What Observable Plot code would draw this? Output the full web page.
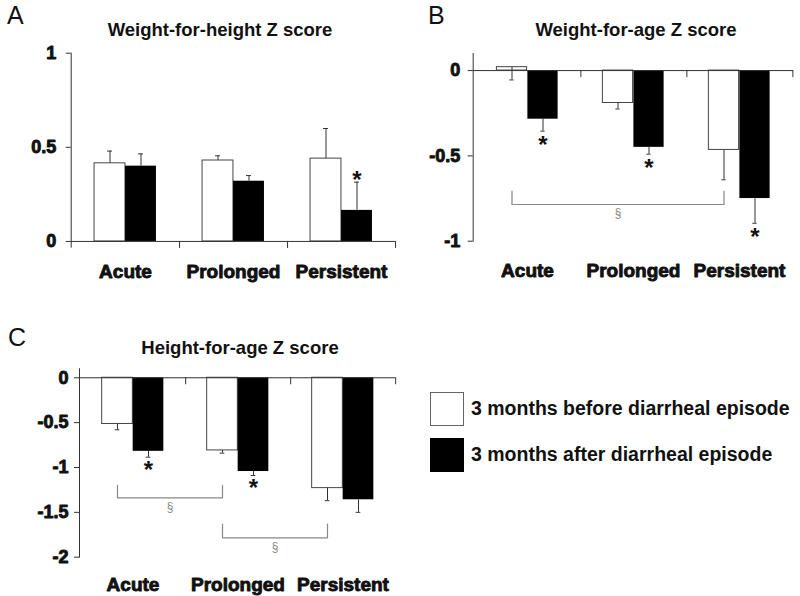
<!DOCTYPE html>
<html><head><meta charset="utf-8">
<script src="https://cdn.jsdelivr.net/npm/d3@7"></script>
<script src="https://cdn.jsdelivr.net/npm/@observablehq/plot@0.6"></script>
<style>
body{margin:0;background:#fff;width:800px;height:596px;position:relative;overflow:hidden;font-family:"Liberation Sans",Arial,sans-serif;color:#111;}
.panel{position:absolute;}
.letter{position:absolute;font-size:25px;line-height:1;}
.title{position:absolute;font-weight:bold;font-size:18.5px;line-height:1;white-space:nowrap;transform:translateX(-50%);}
.legend{position:absolute;left:430px;top:391px;}
.legend .row{display:flex;align-items:center;height:35px;margin-bottom:11px;}
.legend .sw{width:34px;height:34px;box-sizing:border-box;margin-right:7px;}
.legend .lab{font-size:19.5px;font-weight:bold;white-space:nowrap;}
</style></head><body>
<div class="letter" style="left:7px;top:3px">A</div>
<div class="letter" style="left:428px;top:3px">B</div>
<div class="letter" style="left:8px;top:325px">C</div>
<div class="title" style="left:220px;top:21px">Weight-for-height Z score</div>
<div class="title" style="left:636px;top:21px">Weight-for-age Z score</div>
<div class="title" style="left:240px;top:339px">Height-for-age Z score</div>
<div id="A" class="panel" style="left:0;top:0"></div>
<div id="B" class="panel" style="left:400px;top:0"></div>
<div id="C" class="panel" style="left:0;top:290px"></div>
<div class="legend">
  <div class="row"><div class="sw" style="background:#fff;border:1.5px solid #666"></div><div class="lab" id="l0"></div></div>
  <div class="row"><div class="sw" style="background:#000"></div><div class="lab" id="l1"></div></div>
</div>
<script>
// ---- data ----
const categories = ["Acute", "Prolonged", "Persistent"];
const seriesNames = ["3 months before diarrheal episode", "3 months after diarrheal episode"];

// A: Weight-for-height Z score
const whzBefore = [0.415, 0.43, 0.44];
const whzBeforeErr = [0.48, 0.455, 0.60];
const whzAfter = [0.40, 0.32, 0.165];
const whzAfterErr = [0.465, 0.35, 0.315];
const whzStar = [false, false, true];
const whzTicks = [0, 0.5, 1];

// B: Weight-for-age Z score
const wazBefore = [0.02, -0.19, -0.465];
const wazBeforeErr = [-0.055, -0.225, -0.64];
const wazAfter = [-0.285, -0.45, -0.75];
const wazAfterErr = [-0.355, -0.49, -0.895];
const wazStar = [true, true, true];
const wazTicks = [0, -0.5, -1];
const wazBrackets = [{from: "Acute", to: "Persistent", y: -0.785, top: -0.707}];

// C: Height-for-age Z score
const hazBefore = [-0.515, -0.81, -1.23];
const hazBeforeErr = [-0.58, -0.84, -1.37];
const hazAfter = [-0.82, -1.045, -1.36];
const hazAfterErr = [-0.885, -1.09, -1.5];
const hazStar = [true, true, false];
const hazTicks = [0, -0.5, -1, -1.5, -2];
const hazBrackets = [
  {from: "Acute", to: "Prolonged", y: -1.338, top: -1.2},
  {from: "Prolonged", to: "Persistent", y: -1.784, top: -1.63}
];

document.getElementById("l0").textContent = seriesNames[0];
document.getElementById("l1").textContent = seriesNames[1];

const FONT = "Liberation Sans, Arial, sans-serif";
const AX = "#333";
const BAR = 31;

function rows(vals, errs, stars) {
  return categories.map((c, i) => ({cat: c, value: vals[i], err: errs[i], star: stars ? stars[i] : false}));
}

function panel(o) {
  const bw = (o.width - o.marginLeft - o.marginRight) / 3;
  const half = BAR / 2;
  const before = rows(o.before, o.beforeErr);
  const after = rows(o.after, o.afterErr, o.stars);
  const brk = [];
  (o.brackets || []).forEach((b, k) => {
    brk.push({id: k, cat: b.from, y: b.top}, {id: k, cat: b.from, y: b.y}, {id: k, cat: b.to, y: b.y}, {id: k, cat: b.to, y: b.top});
  });
  const marks = [
    Plot.barY(before, {x: "cat", y: "value", fill: "white", stroke: "#444", strokeWidth: 1, insetLeft: bw / 2 - BAR, insetRight: bw / 2}),
    Plot.barY(after, {x: "cat", y: "value", fill: "black", insetLeft: bw / 2, insetRight: bw / 2 - BAR}),
    Plot.ruleX(before, {x: "cat", y1: "value", y2: "err", dx: -half, stroke: AX, strokeWidth: 1}),
    Plot.ruleX(after, {x: "cat", y1: "value", y2: "err", dx: half, stroke: AX, strokeWidth: 1}),
    Plot.tickY(before, {x: "cat", y: "err", dx: -half, insetLeft: bw / 2 - 2.5, insetRight: bw / 2 - 2.5, stroke: AX}),
    Plot.tickY(after, {x: "cat", y: "err", dx: half, insetLeft: bw / 2 - 2.5, insetRight: bw / 2 - 2.5, stroke: AX}),
    Plot.ruleY([0], {stroke: AX, strokeWidth: 1}),
    Plot.ruleX(categories, {x: d => d, y1: 0, y2: 0, insetBottom: -7, dx: bw / 2, stroke: AX}),
    Plot.frame({anchor: "left", stroke: AX}),
    Plot.axisY({ticks: o.ticks, tickSize: 5, tickPadding: o.tickPadding, tickFormat: d => String(d), fontSize: 18, fontWeight: "bold", fill: "#111", stroke: AX, textStroke: "#111", textStrokeWidth: 0.9, label: null}),
    Plot.axisX({tickSize: 0, tickPadding: o.labelPad, fontSize: 19, fontWeight: "bold", fill: "#111", textStroke: "#111", textStrokeWidth: 0.9, label: null}),
    Plot.text(after.filter(d => d.star), {x: "cat", y: "err", text: () => "*", dx: half, dy: o.starDy, fontSize: 24, fontWeight: "bold", fill: "#111"})
  ];
  if (brk.length) {
    marks.push(Plot.line(brk, {x: "cat", y: "y", z: "id", dx: -half, stroke: "#888", strokeWidth: 1.2}));
    marks.push(Plot.text(o.brackets, {x: o.secX, y: "y", text: () => "§", dx: o.secDx, dy: 9, fontSize: 12, fill: "#888"}));
  }
  return Plot.plot({
    width: o.width, height: o.height,
    marginLeft: o.marginLeft, marginRight: o.marginRight, marginTop: o.marginTop, marginBottom: o.marginBottom,
    style: {fontFamily: FONT, background: "transparent", overflow: "visible"},
    x: {type: "band", domain: categories, padding: 0},
    y: {domain: o.domain},
    marks
  });
}

document.getElementById("A").append(panel({
  width: 400, height: 290, marginLeft: 70.7, marginRight: 5, marginTop: 52.7, marginBottom: 43.4,
  domain: [-0.03, 1], ticks: whzTicks, tickPadding: 10, labelPad: 17,
  before: whzBefore, beforeErr: whzBeforeErr, after: whzAfter, afterErr: whzAfterErr, stars: whzStar,
  starDy: -2
}));

document.getElementById("B").append(panel({
  width: 400, height: 290, marginLeft: 72.7, marginRight: 7, marginTop: 53, marginBottom: 49.3,
  domain: [-1, 0.1], ticks: wazTicks, tickPadding: 8, labelPad: 22,
  before: wazBefore, beforeErr: wazBeforeErr, after: wazAfter, afterErr: wazAfterErr, stars: wazStar,
  starDy: 14, brackets: wazBrackets, secX: d => "Prolonged", secDx: -15.5
}));

document.getElementById("C").append(panel({
  width: 400, height: 306, marginLeft: 79, marginRight: 5, marginTop: 78.3, marginBottom: 39.3,
  domain: [-2, 0.1], ticks: hazTicks, tickPadding: 6, labelPad: 20,
  before: hazBefore, beforeErr: hazBeforeErr, after: hazAfter, afterErr: hazAfterErr, stars: hazStar,
  starDy: 13, brackets: hazBrackets, secX: "from", secDx: (395 - 79) / 6 - 15.5
}));
</script>
</body></html>
